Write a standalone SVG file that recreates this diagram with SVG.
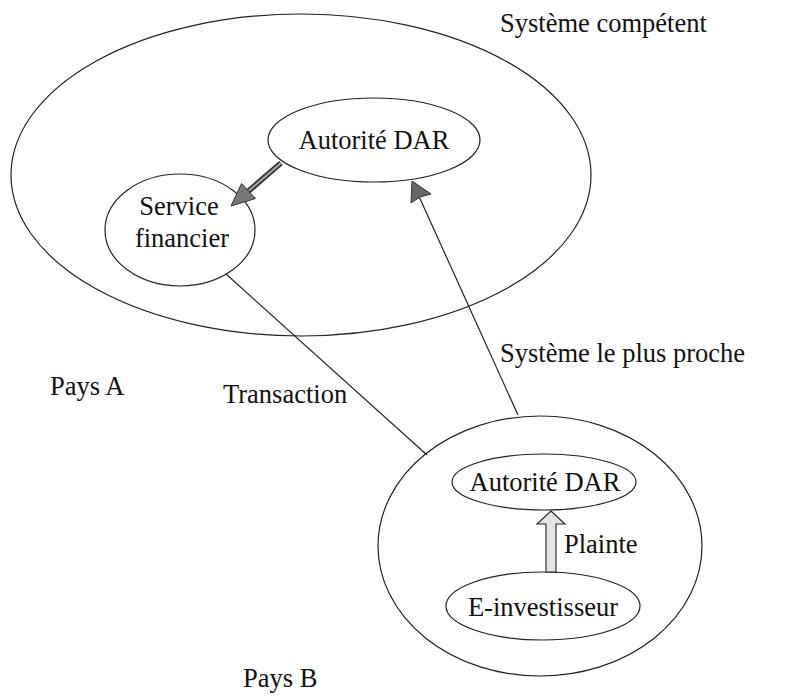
<svg xmlns="http://www.w3.org/2000/svg" width="798" height="697" viewBox="0 0 798 697">
<style>
  .shape { fill: none; stroke: #222; stroke-width: 1.2; }
  .lbl { font-family: "Liberation Serif", "Times New Roman", serif; font-size: 26.5px; fill: #111; }
  .mid { text-anchor: middle; }
  .conn { stroke: #222; stroke-width: 1.2; fill: none; }
</style>
<rect width="798" height="697" fill="#fff"/>

<g id="pays-a">
  <ellipse class="shape" cx="301" cy="175" rx="290" ry="161"/>
  <text class="lbl" x="500" y="32">Système compétent</text>
  <text class="lbl" x="50" y="395">Pays A</text>
</g>

<g id="autorite-a">
  <ellipse class="shape" cx="374" cy="140" rx="106" ry="42"/>
  <text class="lbl mid" x="374" y="149">Autorité DAR</text>
</g>

<g id="service-financier">
  <ellipse class="shape" cx="180" cy="230" rx="75" ry="56"/>
  <text class="lbl mid" x="179" y="215">Service</text>
  <text class="lbl mid" x="182" y="247">financier</text>
</g>

<g id="pays-b">
  <ellipse class="shape" cx="540" cy="546" rx="162" ry="130"/>
  <text class="lbl" x="243" y="687">Pays B</text>
</g>

<g id="autorite-b">
  <ellipse class="shape" cx="544" cy="482" rx="92" ry="28"/>
  <text class="lbl mid" x="545" y="491">Autorité DAR</text>
</g>

<g id="e-investisseur">
  <ellipse class="shape" cx="543" cy="606" rx="97" ry="34"/>
  <text class="lbl mid" x="543" y="616">E-investisseur</text>
</g>

<g id="connectors">
  <!-- Autorité DAR (A) to Service financier -->
  <line x1="281" y1="163" x2="245" y2="194" stroke="#333" stroke-width="5.5"/>
  <line x1="281" y1="163" x2="245" y2="194" stroke="#aaa" stroke-width="2"/>
  <polygon points="231,206 241.5,183.5 255.5,198.5" fill="#777" stroke="#333" stroke-width="1"/>

  <!-- Transaction -->
  <line class="conn" x1="226" y1="274" x2="427" y2="455"/>
  <text class="lbl" x="223" y="403">Transaction</text>

  <!-- Système le plus proche -->
  <line class="conn" x1="518" y1="415" x2="417" y2="192"/>
  <polygon points="412,181 431,194 420,197 411,203" fill="#666" stroke="#333" stroke-width="1"/>
  <text class="lbl" x="500" y="362">Système le plus proche</text>

  <!-- Plainte -->
  <polygon points="551,511 565,524 556,524 556,572 546,572 546,524 537,524" fill="#e4e4e4" stroke="#222" stroke-width="1.1"/>
  <text class="lbl" x="564" y="553">Plainte</text>
</g>
</svg>
